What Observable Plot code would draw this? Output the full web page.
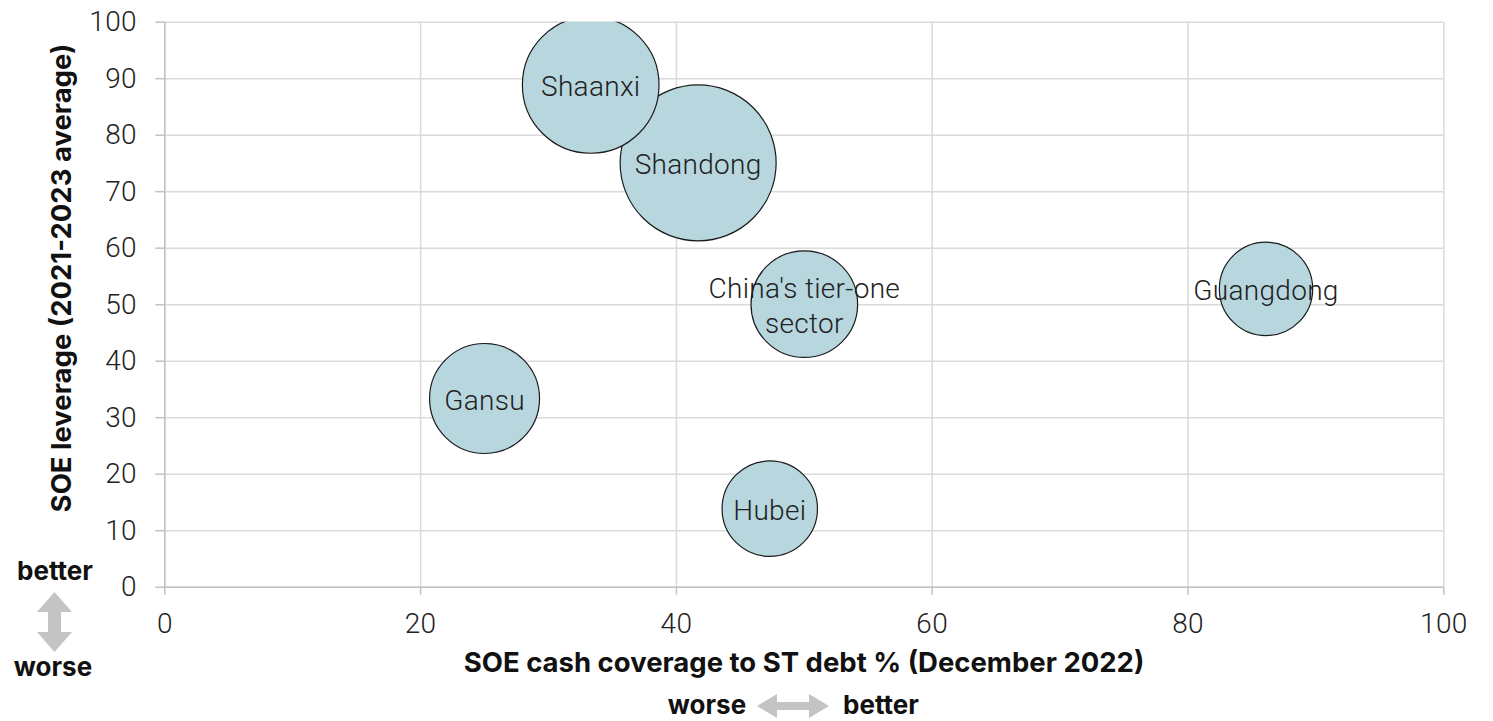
<!DOCTYPE html>
<html>
<head>
<meta charset="utf-8">
<script src="https://cdn.jsdelivr.net/npm/d3@7"></script>
<script src="https://cdn.jsdelivr.net/npm/@observablehq/plot@0.6"></script>
<style>
  html, body { margin: 0; padding: 0; background: #fff; }
  #wrap { position: relative; width: 1493px; height: 721px; font-family: Inter, "Noto Sans", sans-serif; color: #111; }
  .title { position: absolute; font-weight: 700; font-size: 27.5px; white-space: nowrap; color: #111; }
  #ytitle { left: 61px; top: 278px; transform: translate(-50%, -50%) rotate(-90deg); }
  #xtitle { left: 804px; top: 662px; transform: translate(-50%, -50%); }
  .ann { position: absolute; font-weight: 700; font-size: 26px; white-space: nowrap; color: #111; transform: translate(-50%, -50%); }
  svg.arrow { position: absolute; }
</style>
</head>
<body>
<div id="wrap">
  <div id="chart"></div>
  <div class="title" id="ytitle">SOE leverage (2021-2023 average)</div>
  <div class="title" id="xtitle">SOE cash coverage to ST debt % (December 2022)</div>
  <div class="ann" style="left:55px; top:570px;">better</div>
  <svg class="arrow" style="left:36px; top:592px;" width="37" height="60" viewBox="0 0 37 60">
    <polygon points="18.5,0 36,20 25,20 25,40 36,40 18.5,60 1,40 12,40 12,20 1,20" fill="#c4c4c4"/>
  </svg>
  <div class="ann" style="left:53px; top:666px;">worse</div>
  <div class="ann" style="left:707px; top:704px;">worse</div>
  <svg class="arrow" style="left:757px; top:694px;" width="72" height="24" viewBox="0 0 72 24">
    <polygon points="0,12 20,0 20,8 52,8 52,0 72,12 52,24 52,16 20,16 20,24" fill="#c4c4c4"/>
  </svg>
  <div class="ann" style="left:881px; top:704px;">better</div>
</div>
<script>
const names = ["Shaanxi", "Shandong", "China's tier-one\nsector", "Guangdong", "Gansu", "Hubei"];
const cashCoverage = [33.3, 41.7, 50.0, 86.1, 25.0, 47.3];
const leverage = [88.9, 75.1, 50.1, 52.8, 33.4, 13.9];
const bubbleSize = [76.7, 100, 46.7, 35.8, 49.7, 37.4];
const xTicks = [0, 20, 40, 60, 80, 100];
const yTicks = [0, 10, 20, 30, 40, 50, 60, 70, 80, 90, 100];

const data = names.map((n, i) => ({name: n, x: cashCoverage[i], y: leverage[i], s: bubbleSize[i]}));

const lightFont = "Roboto, Inter, 'Noto Sans', sans-serif";

const chart = Plot.plot({
  width: 1493,
  height: 721,
  marginLeft: 164.3,
  marginRight: 49.7,
  marginTop: 21.7,
  marginBottom: 134.3,
  style: {fontFamily: lightFont, fontSize: "28px", fontWeight: 300, color: "#222", background: "#fff", letterSpacing: "0.3px"},
  x: {domain: [0, 100], label: null},
  y: {domain: [0, 100], label: null},
  r: {domain: [0, 100], range: [0, 78]},
  marks: [
    Plot.gridX(xTicks, {stroke: "#dadada", strokeOpacity: 1, strokeWidth: 1.5}),
    Plot.gridY(yTicks, {stroke: "#dadada", strokeOpacity: 1, strokeWidth: 1.5}),
    Plot.axisX({ticks: xTicks, tickSize: 8, tickPadding: 18, stroke: "#c2c2c2", strokeWidth: 1.5, fill: "#222", label: null}),
    Plot.axisY({ticks: yTicks, tickSize: 9, tickPadding: 19, stroke: "#c2c2c2", strokeWidth: 1.5, fill: "#222", label: null}),
    Plot.ruleX([0], {stroke: "#c2c2c2", strokeWidth: 1.5}),
    Plot.ruleY([0], {stroke: "#c2c2c2", strokeWidth: 1.5}),
    Plot.dot(data, {x: "x", y: "y", r: "s", fill: "#b7d6de", fillOpacity: 1, stroke: "#1a1a1a", strokeWidth: 1.2, clip: "frame"}),
    Plot.text(data, {x: "x", y: "y", text: "name", fill: "#222", fontSize: 28, fontWeight: 300, lineHeight: 1.25})
  ]
});
document.getElementById("chart").appendChild(chart);
</script>
</body>
</html>
